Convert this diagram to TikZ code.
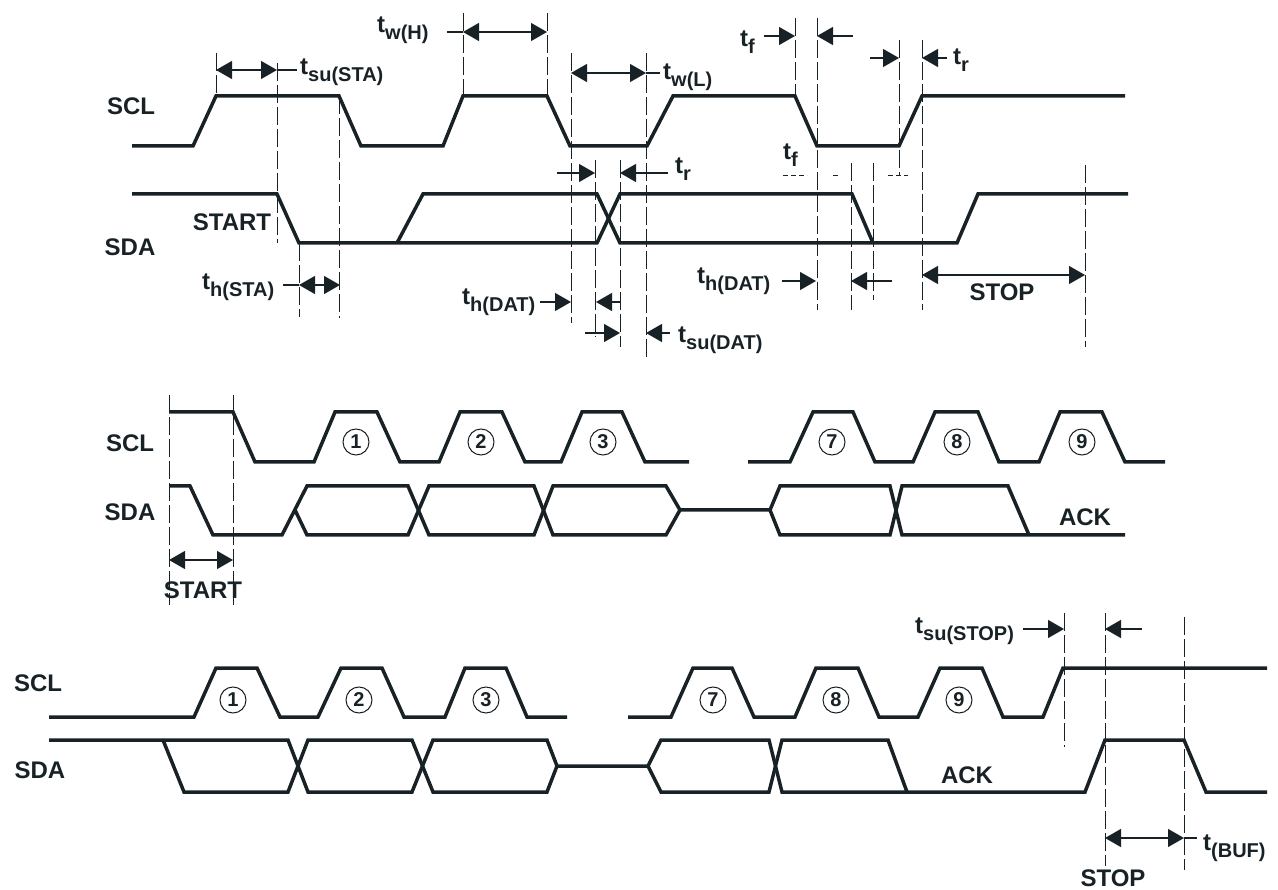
\documentclass[tikz,border=0pt]{standalone}
\usepackage{fontspec}
\setmainfont{Liberation Sans}
\usetikzlibrary{arrows.meta}
\definecolor{ink}{RGB}{24,34,38}
\newcommand{\tsb}[1]{t\raisebox{-7pt}{\fontsize{20}{20}\selectfont #1}}
\tikzset{
  wave/.style={line width=3.5pt, draw=ink},
  guide/.style={line width=1pt, draw=ink, dash pattern=on 18pt off 4pt},
  sdash/.style={line width=1pt, draw=ink, dash pattern=on 5pt off 3pt},
  dim/.style={line width=1.3pt, draw=ink},
  lab/.style={font=\fontsize{24}{24}\selectfont\bfseries, text=ink, inner sep=0pt},
  tlab/.style={lab, anchor=base west},
  num/.style={circle, draw=ink, line width=1pt, minimum size=26pt, inner sep=0pt,
              font=\fontsize{20}{20}\selectfont\bfseries, text=ink},
  >={Triangle[length=16pt,width=18pt]}
}
\begin{document}
\begin{tikzpicture}[x=1pt,y=-1pt]
\useasboundingbox (0,0) rectangle (1278,890);

% ================= TOP SECTION =================
\node[lab] (sclA) at (131,106) {SCL};
\node[lab] (sdaA) at (130,247) {SDA};
\node[lab] (startA) at (232,222) {START};

% guides
\draw[guide] (216,53) -- (216,96);
\draw[guide] (277,63) -- (277,243);
\draw[guide] (339,96) -- (339,318);
\draw[guide] (299,243) -- (299,317);
\draw[guide] (463,13) -- (463,96);
\draw[guide] (547,13) -- (547,100);
\draw[guide] (571,53) -- (571,323);
\draw[guide] (646,53) -- (646,357);
\draw[guide] (595,160) -- (595,337);
\draw[guide] (620,160) -- (620,347);
\draw[guide] (795,18) -- (795,96);
\draw[guide] (817,18) -- (817,310);
\draw[guide] (851,163) -- (851,310);
\draw[guide] (873,163) -- (873,300);
\draw[guide] (899,40) -- (899,176);
\draw[guide] (922,40) -- (922,310);
\draw[guide] (1085,165) -- (1085,347);
\draw[sdash] (783,176) -- (807,176);
\draw[sdash] (833,176) -- (838,176);
\draw[sdash] (888,176) -- (908,176);

% waveforms
\draw[wave] (132,146) -- (193,146) -- (216,96) -- (339,96) -- (361,146) -- (443,146) -- (463,96)
  -- (547,96) -- (570,146) -- (647,146) -- (673,96) -- (795,96) -- (817,146) -- (899,146)
  -- (922,96) -- (1125,96);
\draw[wave] (132,194) -- (277,194) -- (299,243) -- (597,243) -- (620,194) -- (852,194) -- (873,243);
\draw[wave] (397,243) -- (423,194) -- (597,194) -- (620,243) -- (957,243) -- (978,194) -- (1128,194);

% timing arrows and labels
\draw[dim,<->] (216,70) -- (277,70);
\draw[dim] (277,70) -- (297,70);
\node[tlab] (tsusta) at (300,75) {\tsb{su(STA)}};

\node[tlab] (twh) at (377,33) {\tsb{w(H)}};
\draw[dim] (447,32) -- (463,32);
\draw[dim,<->] (463,32) -- (547,32);

\draw[dim,<->] (571,73) -- (646,73);
\draw[dim] (646,73) -- (660,73);
\node[tlab] (twl) at (663,80) {\tsb{w(L)}};

\node[tlab] (tfa) at (740,47) {\tsb{f}};
\draw[dim,->] (764,36) -- (795,36);
\draw[dim,->] (853,36) -- (817,36);

\draw[dim,->] (870,58) -- (899,58);
\draw[dim,->] (947,58) -- (922,58);
\node[tlab] (tra) at (953,65) {\tsb{r}};

\node[tlab] (tfb) at (783,160) {\tsb{f}};

\draw[dim,->] (557,173) -- (595,173);
\draw[dim,->] (668,173) -- (620,173);
\node[tlab] (trb) at (675,174) {\tsb{r}};

\node[tlab] (thsta) at (202,290) {\tsb{h(STA)}};
\draw[dim] (283,285) -- (299,285);
\draw[dim,<->] (299,285) -- (340,285);

\node[tlab] (thdata) at (462,305) {\tsb{h(DAT)}};
\draw[dim,->] (540,302) -- (571,302);
\draw[dim,->] (620,302) -- (596,302);

\draw[dim,->] (585,333) -- (620,333);
\draw[dim,->] (670,333) -- (646,333);
\node[tlab] (tsudat) at (678,343) {\tsb{su(DAT)}};

\node[tlab] (thdatb) at (697,284) {\tsb{h(DAT)}};
\draw[dim,->] (782,281) -- (816,281);
\draw[dim,->] (892,281) -- (851,281);

\draw[dim,<->] (922,275) -- (1085,275);
\node[lab] (stopA) at (1002,292) {STOP};

% ================= MIDDLE SECTION =================
\node[lab] (sclB) at (130,443) {SCL};
\node[lab] (sdaB) at (130,512) {SDA};

\draw[guide] (169,395) -- (169,605);
\draw[guide] (233,395) -- (233,605);

\draw[wave] (169,412) -- (233,412) -- (255,462) -- (314,462) -- (335,412) -- (377,412) -- (400,462)
  -- (439,462) -- (460,412) -- (502,412) -- (525,462) -- (561,462) -- (582,412) -- (622,412)
  -- (645,462) -- (689,462);
\draw[wave] (748,462) -- (790,462) -- (813,412) -- (853,412) -- (875,462) -- (913,462) -- (935,412)
  -- (978,412) -- (999,462) -- (1039,462) -- (1060,412) -- (1102,412) -- (1125,462) -- (1165,462);

\draw[wave] (169,486) -- (190,486) -- (213,535) -- (282,535) -- (307,486) -- (408,486) -- (429,535)
  -- (534,535) -- (553,486) -- (666,486) -- (680,510) -- (770,510) -- (780,486) -- (890,486)
  -- (902,535) -- (1125,535);
\draw[wave] (295,510) -- (307,535) -- (408,535) -- (429,486) -- (534,486) -- (553,535) -- (666,535) -- (680,510);
\draw[wave] (770,510) -- (780,535) -- (890,535) -- (902,486) -- (1008,486) -- (1029,535);

\node[num] (m1) at (356,442) {1};
\node[num] (m2) at (481,442) {2};
\node[num] (m3) at (603,442) {3};
\node[num] (m7) at (832,442) {7};
\node[num] (m8) at (957,442) {8};
\node[num] (m9) at (1082,442) {9};
\node[lab] (ackB) at (1085,517) {ACK};

\draw[dim,<->] (169,560) -- (233,560);
\node[lab] (startB) at (203,590) {START};

% ================= BOTTOM SECTION =================
\node[lab] (sclC) at (38,683) {SCL};
\node[lab] (sdaC) at (40,770) {SDA};

\draw[guide] (1064,613) -- (1064,747);
\draw[guide] (1105,613) -- (1105,866);
\draw[guide] (1184,617) -- (1184,870);

\draw[wave] (49,717) -- (194,717) -- (216,668) -- (257,668) -- (280,717) -- (318,717) -- (341,668)
  -- (382,668) -- (404,717) -- (445,717) -- (465,668) -- (506,668) -- (527,717) -- (567,717);
\draw[wave] (628,717) -- (671,717) -- (693,668) -- (732,668) -- (754,717) -- (795,717) -- (816,668)
  -- (858,668) -- (879,717) -- (918,717) -- (940,668) -- (982,668) -- (1003,717) -- (1043,717)
  -- (1063,668) -- (1267,668);

\draw[wave] (49,740) -- (288,740) -- (308,792) -- (412,792) -- (433,740) -- (547,740) -- (557,766)
  -- (648,766) -- (661,740) -- (769,740) -- (782,792) -- (1085,792) -- (1105,740) -- (1184,740)
  -- (1206,792) -- (1267,792);
\draw[wave] (163,740) -- (184,792) -- (288,792) -- (308,740) -- (412,740) -- (433,792) -- (547,792) -- (557,766);
\draw[wave] (648,766) -- (661,792) -- (769,792) -- (782,740) -- (888,740) -- (907,792);

\node[num] (b1) at (233,700) {1};
\node[num] (b2) at (359,700) {2};
\node[num] (b3) at (486,700) {3};
\node[num] (b7) at (713,700) {7};
\node[num] (b8) at (836,700) {8};
\node[num] (b9) at (959,700) {9};
\node[lab] (ackC) at (967,775) {ACK};

\node[tlab] (tsustop) at (915,633) {\tsb{su(STOP)}};
\draw[dim,->] (1023,629) -- (1064,629);
\draw[dim,->] (1142,629) -- (1105,629);

\draw[dim,<->] (1105,838) -- (1184,838);
\draw[dim] (1184,838) -- (1197,838);
\node[tlab] (tbuf) at (1203,850) {\tsb{(BUF)}};
\node[lab] (stopC) at (1113,878) {STOP};

\end{tikzpicture}
\end{document}
